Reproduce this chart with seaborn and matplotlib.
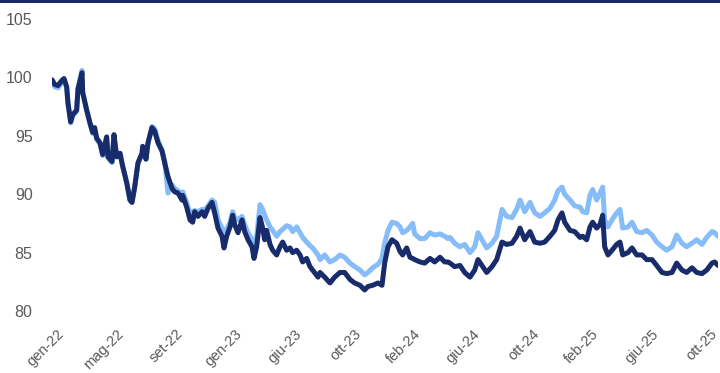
import numpy as np
import pandas as pd
import matplotlib
matplotlib.use("Agg")
import matplotlib.pyplot as plt
from matplotlib.patches import Rectangle
import seaborn as sns

# trading-day index (category position along the axis) of each reading
trading_day = (
    [0, 4, 9, 15, 18, 22, 24, 28, 31, 37, 39, 45, 46, 52, 57, 61, 64, 67, 72, 76, 82, 84, 90, 93,
     97, 102, 106, 112, 117, 120, 124, 129, 135, 136, 141, 144, 150, 154, 159, 165, 169, 174, 180,
     184, 189, 195]
    + [196, 202, 207, 211, 214, 219, 225, 229, 234, 240, 244, 249, 255, 258, 262, 267, 271, 274,
       279, 285, 289, 294, 300, 303, 307, 312, 316, 319, 322, 327, 331, 337, 342, 346, 352, 357,
       361, 367, 372, 376, 382, 387, 391, 399]
    + [402, 409, 417, 424, 432, 439, 447, 454, 462, 469, 474, 481, 489, 495, 499, 504, 510, 517,
       522, 526, 532, 537, 541, 544, 552, 559, 567, 574, 582, 589, 594]
    + [597, 604, 612, 619, 627, 634, 639, 645, 652, 660, 667, 675, 682, 690, 697, 702, 709, 717,
       724, 732, 739, 747, 754, 759, 765, 769, 777, 784, 792]
    + [796, 802, 807, 811, 817, 822, 826, 829, 834, 840, 847, 852, 856, 864, 870, 877, 885, 892,
       900, 907, 915, 922, 930, 937, 945, 952, 960, 967, 975, 982, 990, 994, 999]
)

dark_series = (
    [99.8, 99.4, 99.3, 99.75, 99.9, 99.2, 97.8, 96.2, 96.8, 97.2, 99.0, 100.4, 98.7, 97.2, 96.1,
     95.3, 95.7, 94.8, 94.4, 93.4, 94.9, 93.2, 92.8, 95.1, 93.2, 93.5, 92.4, 91.0, 89.5, 89.3,
     90.6, 92.7, 93.5, 94.1, 93.0, 94.4, 95.7, 95.4, 94.4, 93.7, 92.7, 91.5, 90.5, 90.2, 90.1,
     89.5]
    + [89.9, 88.9, 87.8, 87.6, 88.5, 88.1, 88.5, 88.1, 88.8, 89.3, 88.4, 87.1, 86.4, 85.4, 86.4,
       87.2, 88.2, 87.4, 86.7, 87.8, 86.8, 86.1, 85.5, 84.5, 85.5, 88.0, 87.1, 86.1, 86.9, 85.7,
       85.2, 84.8, 85.5, 85.9, 85.2, 85.4, 85.0, 85.2, 84.8, 84.2, 84.5, 83.8, 83.5, 82.9]
    + [83.3, 82.9, 82.4, 82.9, 83.3, 83.3, 82.7, 82.4, 82.2, 81.8, 82.1, 82.2, 82.4, 82.2, 84.1,
       85.5, 86.1, 85.8, 85.1, 84.8, 85.4, 84.6, 84.5, 84.4, 84.2, 84.1, 84.5, 84.2, 84.6, 84.2,
       84.2]
    + [84.1, 83.8, 83.9, 83.3, 82.9, 83.5, 84.4, 83.9, 83.3, 83.8, 84.4, 85.9, 85.7, 85.8, 86.4,
       87.1, 86.1, 86.8, 85.9, 85.8, 85.9, 86.4, 86.9, 87.8, 88.4, 87.6, 86.9, 86.8, 86.3]
    + [86.4, 86.1, 87.2, 87.6, 87.1, 87.4, 88.2, 85.5, 84.8, 85.2, 85.7, 85.9, 84.8, 85.0, 85.4,
       84.8, 84.8, 84.4, 84.4, 83.9, 83.3, 83.2, 83.3, 84.1, 83.5, 83.3, 83.7, 83.3, 83.2, 83.5,
       84.1, 84.2, 83.9]
)

light_series = (
    [99.6, 99.2, 99.1, 99.6, 99.8, 99.1, 97.7, 96.1, 96.7, 97.1, 99.1, 100.6, 98.8, 97.2, 96.0,
     95.2, 95.6, 94.7, 94.3, 93.3, 94.9, 93.1, 92.7, 95.0, 93.2, 93.5, 92.4, 91.0, 89.5, 89.3,
     90.6, 92.6, 93.4, 94.0, 93.0, 94.4, 95.8, 95.6, 94.6, 93.8, 92.8, 90.1, 90.8, 90.5, 90.3,
     89.9]
    + [90.2, 89.3, 88.3, 88.5, 88.6, 88.5, 88.7, 88.6, 89.0, 89.5, 89.3, 87.8, 87.1, 86.8, 87.0,
       87.6, 88.5, 88.0, 87.8, 88.1, 87.4, 86.7, 86.1, 85.8, 86.4, 89.1, 88.7, 88.2, 87.8, 87.2,
       86.9, 86.4, 86.8, 87.0, 87.3, 87.2, 86.8, 87.2, 86.7, 86.3, 85.9, 85.6, 85.4, 84.8]
    + [84.4, 84.8, 84.2, 84.4, 84.8, 84.6, 84.1, 83.8, 83.5, 83.1, 83.3, 83.7, 84.0, 84.5, 85.8,
       86.9, 87.6, 87.5, 87.2, 86.7, 86.9, 87.2, 87.5, 86.6, 86.2, 86.2, 86.7, 86.5, 86.6, 86.4,
       86.2]
    + [86.3, 85.8, 85.5, 85.7, 85.0, 85.5, 86.7, 86.1, 85.4, 85.8, 86.4, 88.7, 88.1, 88.0, 88.7,
       89.5, 88.5, 89.3, 88.4, 88.1, 88.4, 88.8, 89.5, 90.3, 90.6, 90.0, 89.5, 89.0, 88.9]
    + [88.5, 88.4, 89.9, 90.4, 89.5, 90.1, 90.6, 87.8, 87.2, 87.8, 88.4, 88.7, 87.1, 87.2, 87.6,
       86.8, 86.7, 86.9, 86.5, 85.9, 85.5, 85.2, 85.5, 86.5, 85.8, 85.5, 85.8, 86.1, 85.7, 86.3,
       86.8, 86.7, 86.4]
)

tick_labels = ["gen-22", "mag-22", "set-22", "gen-23", "giu-23", "ott-23", "feb-24",
               "giu-24", "ott-24", "feb-25", "giu-25", "ott-25"]
y_ticks = [80, 85, 90, 95, 100, 105]

DARK = "#182c6b"
LIGHT = "#86bdf8"

sns.set_theme(style="white")
plt.rcParams["font.family"] = ["Liberation Sans", "DejaVu Sans"]

df = pd.DataFrame({
    "day": trading_day + trading_day,
    "value": light_series + dark_series,
    "series": ["light"] * len(light_series) + ["dark"] * len(dark_series),
})

fig = plt.figure(figsize=(7.2, 3.73), dpi=100)
ax = fig.add_axes([52 / 720, 62 / 373, 666 / 720, 292 / 373])

sns.lineplot(data=df, x="day", y="value", hue="series", hue_order=["light", "dark"],
             palette={"light": LIGHT, "dark": DARK}, linewidth=3.6, legend=False, ax=ax,
             estimator=None, sort=False)

ax.set_xlim(0, 999)
ax.set_ylim(80, 105)
ax.set_yticks(y_ticks)
ax.set_yticklabels([str(v) for v in y_ticks])
tick_pos = np.linspace(15, 995, len(tick_labels))
ax.set_xticks(tick_pos)
ax.set_xticklabels(tick_labels, rotation=45, ha="right", va="center", rotation_mode="anchor")
ax.set_xlabel("")
ax.set_ylabel("")
for s in ax.spines.values():
    s.set_visible(False)
ax.tick_params(axis="both", length=0, colors="#595959")
ax.tick_params(axis="y", pad=14, labelsize=11.5)
ax.tick_params(axis="x", pad=15, labelsize=10.5)

fig.add_artist(Rectangle((0, 1 - 3 / 373), 1, 3 / 373, transform=fig.transFigure,
                         color="#1b2a66", lw=0))

fig.savefig("out.png", dpi=100)
